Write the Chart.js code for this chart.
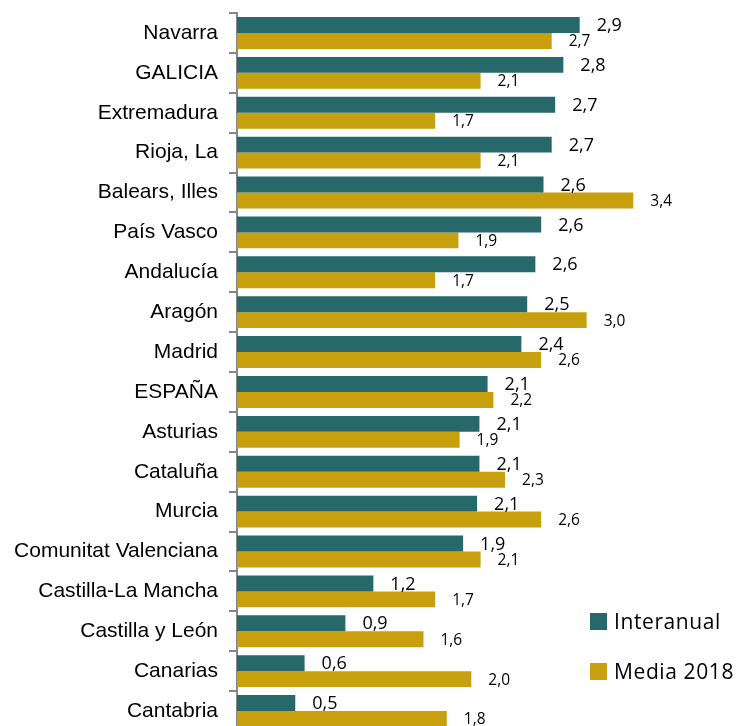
<!DOCTYPE html>
<html>
<head>
<meta charset="utf-8">
<script src="https://cdn.jsdelivr.net/npm/chart.js@4.4.1/dist/chart.umd.min.js"></script>
<style>
  html, body { margin: 0; padding: 0; background: #fff; overflow: hidden; }
  #wrap { position: relative; width: 744px; height: 726px; overflow: hidden; }
  #canvas { display: block; }
  .legend { position: absolute; left: 590px; font-family: 'Open Sans', sans-serif; font-size: 21px; color: #000; letter-spacing: 0.6px; display: flex; align-items: center; white-space: nowrap; }
  .legend .box { width: 17px; height: 17px; margin-right: 7px; }
</style>
</head>
<body>
<div id="wrap">
  <canvas id="canvas" width="744" height="731"></canvas>
  <div class="legend" id="leg1" style="top: 607px;"><div class="box"></div><span>Interanual</span></div>
  <div class="legend" id="leg2" style="top: 657px;"><div class="box"></div><span>Media 2018</span></div>
</div>
<script>
const categories = [
  'Navarra', 'GALICIA', 'Extremadura', 'Rioja, La', 'Balears, Illes', 'País Vasco',
  'Andalucía', 'Aragón', 'Madrid', 'ESPAÑA', 'Asturias', 'Cataluña', 'Murcia',
  'Comunitat Valenciana', 'Castilla-La Mancha', 'Castilla y León', 'Canarias', 'Cantabria'
];
const interanual = [2.94, 2.80, 2.73, 2.70, 2.63, 2.61, 2.56, 2.49, 2.44, 2.15, 2.08, 2.08, 2.06, 1.94, 1.17, 0.93, 0.58, 0.50];
const media2018 = [2.70, 2.09, 1.70, 2.09, 3.40, 1.90, 1.70, 3.00, 2.61, 2.20, 1.91, 2.30, 2.61, 2.09, 1.70, 1.60, 2.01, 1.80];
const seriesNames = ['Interanual', 'Media 2018'];
const colors = ['#27686A', '#C8A00D'];

document.addEventListener('DOMContentLoaded', () => {
  // leyenda en html
  ['leg1', 'leg2'].forEach((id, i) => {
    document.querySelector('#' + id + ' .box').style.background = colors[i];
  });

  const fmt = (v) => v.toFixed(1).replace('.', ',');

  // etiquetas de valor al final de cada barra
  const valueLabels = {
    id: 'valueLabels',
    afterDatasetsDraw(chart) {
      const ctx = chart.ctx;
      ctx.save();
      ctx.fillStyle = '#000';
      ctx.textAlign = 'left';
      ctx.textBaseline = 'middle';
      chart.data.datasets.forEach((ds, i) => {
        const meta = chart.getDatasetMeta(i);
        ctx.font = (i === 0 ? '18px' : '15.5px') + " 'Open Sans', sans-serif";
        meta.data.forEach((bar, j) => {
          ctx.fillText(fmt(ds.data[j]), bar.x + 17, bar.y + 1);
        });
      });
      ctx.restore();
    }
  };

  const config = {
    type: 'bar',
    data: {
      labels: categories,
      datasets: [
        {
          label: seriesNames[0],
          data: interanual,
          backgroundColor: colors[0],
          categoryPercentage: 0.8,
          barPercentage: 1.0,
        },
        {
          label: seriesNames[1],
          data: media2018,
          backgroundColor: colors[1],
          categoryPercentage: 0.8,
          barPercentage: 1.0,
        },
      ],
    },
    options: {
      indexAxis: 'y',
      responsive: false,
      animation: false,
      layout: { padding: { top: 13, right: 0, bottom: 0, left: 0 } },
      plugins: {
        legend: { display: false },
        tooltip: { enabled: false },
      },
      scales: {
        x: {
          display: false,
          min: 0,
          max: 4.35,
        },
        y: {
          position: 'left',
          afterFit: (scale) => {
            scale.width = 237;
            scale.paddingTop = 0;
            scale.paddingBottom = 0;
          },
          grid: {
            offset: true,
            drawOnChartArea: false,
            drawTicks: true,
            tickLength: 8,
            color: '#878787',
            lineWidth: 2,
          },
          border: { display: true, color: '#878787', width: 2 },
          ticks: {
            autoSkip: false,
            padding: 11,
            color: '#000',
            font: { family: "'Liberation Sans', Arial, sans-serif", size: 21 },
          },
        },
      },
    },
    plugins: [valueLabels],
  };

  const ctx = document.getElementById('canvas').getContext('2d');
  window.myBar = new Chart(ctx, config);
});
</script>
</body>
</html>
